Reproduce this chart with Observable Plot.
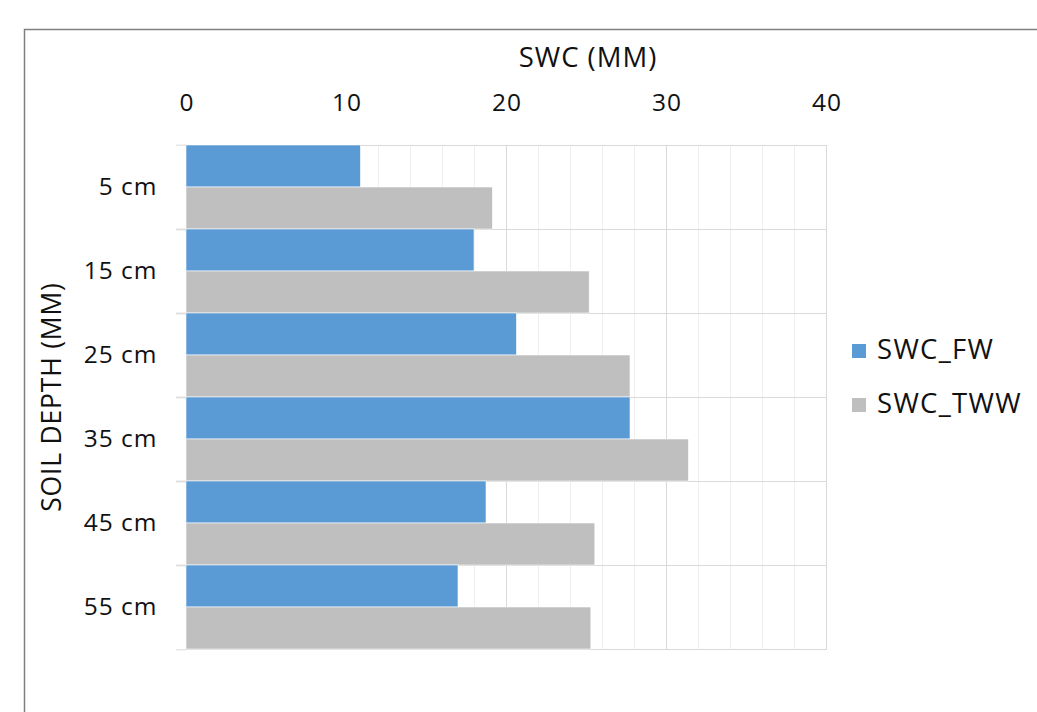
<!DOCTYPE html>
<html>
<head>
<meta charset="utf-8">
<script src="https://cdn.jsdelivr.net/npm/d3@7"></script>
<script src="https://cdn.jsdelivr.net/npm/@observablehq/plot@0.6"></script>
<style>
  html, body { margin: 0; padding: 0; background: #fff; }
  #chart { position: relative; width: 1037px; height: 712px; overflow: hidden; font-family: "Open Sans", sans-serif; }
  #chart svg { position: absolute; left: 0; top: 0; }
</style>
</head>
<body>
<div id="chart"></div>
<script>
// Soil water content by depth, two irrigation treatments
const depths = ["5 cm", "15 cm", "25 cm", "35 cm", "45 cm", "55 cm"];
const series = ["SWC_FW", "SWC_TWW"];
const swcFW = [10.9, 18.0, 20.65, 27.75, 18.75, 17.0];
const swcTWW = [19.15, 25.2, 27.75, 31.4, 25.55, 25.3];
const xTicks = [0, 10, 20, 30, 40];
const xMinorTicks = [0, 2, 4, 6, 8, 10, 12, 14, 16, 18, 20, 22, 24, 26, 28, 30, 32, 34, 36, 38, 40];
const colors = ["#5b9bd5", "#bfbfbf"];
const xTitle = "SWC (MM)";
const yTitle = "SOIL DEPTH (MM)";

const rows = depths.flatMap((depth, i) => [
  {depth, series: series[0], value: swcFW[i]},
  {depth, series: series[1], value: swcTWW[i]}
]);

const W = 1037, H = 712;
const mL = 186, mR = 211, mT = 143, mB = 61;
const bandH = (H - mT - mB) / depths.length;
const gridColor = "#d9d9d9";
const textColor = "#111";

const chart = Plot.plot({
  width: W,
  height: H,
  marginLeft: mL,
  marginRight: mR,
  marginTop: mT,
  marginBottom: mB,
  style: {fontFamily: "Open Sans", background: "transparent", color: textColor, overflow: "visible", letterSpacing: "1px"},
  x: {domain: [0, 40]},
  y: {domain: series, padding: 0, axis: null},
  fy: {domain: depths, padding: 0},
  color: {domain: series, range: colors},
  marks: [
    Plot.gridX(xMinorTicks, {stroke: "#efefef", strokeOpacity: 1}),
    Plot.gridX(xTicks, {stroke: gridColor, strokeOpacity: 1}),
    Plot.frame({stroke: gridColor}),
    Plot.barX(rows, {fy: "depth", y: "series", x: "value", fill: "series", stroke: "#fff", strokeOpacity: 0.7, strokeWidth: 0.8}),
    Plot.axisX(xTicks, {anchor: "top", tickSize: 0, tickPadding: 35, fontSize: 24.5, dx: 0.5, label: null}),
    Plot.axisFy({anchor: "left", tickSize: 0, tickPadding: 29, fontSize: 24.5, label: null}),
    // outer tick marks sitting on the band boundaries
    Plot.axisFy({anchor: "left", tickSize: 10, text: null, label: null, stroke: gridColor, strokeOpacity: 1, dy: -bandH / 2}),
    Plot.axisFy([depths[depths.length - 1]], {anchor: "left", tickSize: 10, text: null, label: null, stroke: gridColor, strokeOpacity: 1, dy: bandH / 2})
  ]
});

const root = document.getElementById("chart");

// outer chart border
const back = d3.create("svg")
  .attr("width", W)
  .attr("height", H);

back.append("rect")
  .attr("x", 24.5).attr("y", 29.5)
  .attr("width", 1100).attr("height", 800)
  .attr("fill", "#fff")
  .attr("stroke", "#7f7f7f")
  .attr("stroke-width", 1.5);

root.appendChild(back.node());
root.appendChild(chart);

// titles and legend
const labels = d3.create("svg")
  .attr("width", W)
  .attr("height", H)
  .style("font-family", "Open Sans")
  .style("pointer-events", "none");

labels.append("text")
  .attr("x", 588).attr("y", 67)
  .attr("text-anchor", "middle")
  .attr("font-size", 27.5)
  .attr("letter-spacing", 1)
  .attr("fill", textColor)
  .text(xTitle);

labels.append("text")
  .attr("transform", "translate(61,397) rotate(-90)")
  .attr("text-anchor", "middle")
  .attr("font-size", 26.5)
  .attr("letter-spacing", 0.8)
  .attr("fill", textColor)
  .text(yTitle);

const legend = labels.append("g");
series.forEach((s, i) => {
  const top = 344 + i * 54;
  legend.append("rect")
    .attr("x", 852).attr("y", top)
    .attr("width", 14).attr("height", 14)
    .attr("fill", colors[i]);
  legend.append("text")
    .attr("x", 877).attr("y", top + 15)
    .attr("font-size", 27.5)
    .attr("letter-spacing", 1.3)
    .attr("fill", textColor)
    .text(s);
});

root.appendChild(labels.node());
</script>
</body>
</html>
